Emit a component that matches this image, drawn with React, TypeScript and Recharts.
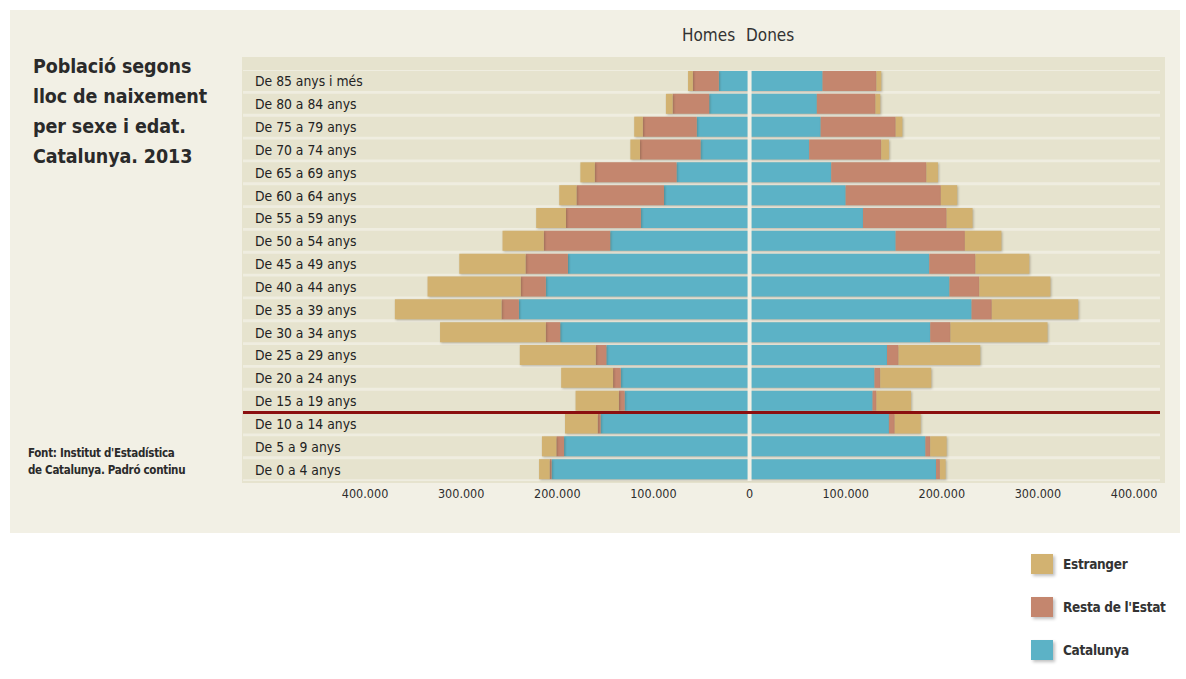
import React from 'react';
import { BarChart, Bar, XAxis, YAxis, CartesianGrid, ReferenceLine } from 'recharts';

// age groups, top to bottom
const ageGroups = [
  'De 85 anys i més', 'De 80 a 84 anys', 'De 75 a 79 anys', 'De 70 a 74 anys',
  'De 65 a 69 anys', 'De 60 a 64 anys', 'De 55 a 59 anys', 'De 50 a 54 anys',
  'De 45 a 49 anys', 'De 40 a 44 anys', 'De 35 a 39 anys', 'De 30 a 34 anys',
  'De 25 a 29 anys', 'De 20 a 24 anys', 'De 15 a 19 anys', 'De 10 a 14 anys',
  'De 5 a 9 anys', 'De 0 a 4 anys',
];

// men (thousands)
const homesCatalunya = [32, 42, 55, 51, 76, 89, 113, 145, 189, 212, 240, 197, 149, 134, 130, 155, 193, 206];
const homesResta = [27, 38, 56, 63, 85, 91, 78, 69, 44, 26, 18, 15, 11, 8, 6, 3, 8, 2];
const homesEstranger = [5, 7, 9, 10, 15, 18, 31, 43, 69, 97, 111, 110, 79, 54, 45, 34, 15, 11];

// women (thousands)
const donesCatalunya = [76, 70, 74, 62, 85, 100, 118, 152, 187, 208, 231, 188, 143, 130, 128, 145, 183, 194];
const donesResta = [56, 61, 78, 75, 99, 99, 87, 72, 48, 31, 21, 21, 12, 6, 4, 6, 5, 4];
const donesEstranger = [5, 5, 7, 8, 12, 17, 27, 38, 56, 74, 90, 101, 85, 53, 36, 27, 17, 6];

const xTicks = [-400000, -300000, -200000, -100000, 0, 100000, 200000, 300000, 400000];

const COLORS = {
  catalunya: '#5cb2c6',
  resta: '#c4866e',
  estranger: '#d2b271',
};

const data = ageGroups.map((age, i) => ({
  age,
  hCat: -homesCatalunya[i] * 1000,
  hResta: -homesResta[i] * 1000,
  hEstr: -homesEstranger[i] * 1000,
  dCat: donesCatalunya[i] * 1000,
  dResta: donesResta[i] * 1000,
  dEstr: donesEstranger[i] * 1000,
}));

const fmt = (v: number) => Math.abs(v).toLocaleString('de-DE');

const condensed = '"DejaVu Sans Condensed", "Liberation Sans Narrow", "Open Sans", sans-serif';

const legendItems = [
  { label: 'Estranger', color: COLORS.estranger },
  { label: "Resta de l'Estat", color: COLORS.resta },
  { label: 'Catalunya', color: COLORS.catalunya },
];

// row labels sit inside the plot area, on the left
const AgeTick = (props: any) => {
  const { y, payload } = props;
  return (
    <text x={255} y={y} dy="0.36em" fontSize={13.8} fill="#222" fontFamily={condensed} textAnchor="start">
      {payload.value}
    </text>
  );
};

export default function App() {
  return (
    <div style={{ position: 'absolute', left: 0, top: 0, width: 1186, height: 679, background: '#fff', fontFamily: condensed }}>
      <style>{`.recharts-bar-rectangle .recharts-rectangle { filter: drop-shadow(1.5px 1.5px 1px rgba(60,50,30,0.3)); }`}</style>
      <div style={{ position: 'absolute', left: 10, top: 10, width: 1170, height: 523, background: '#f2f0e5' }} />
      <div style={{ position: 'absolute', left: 242, top: 57, width: 923, height: 426, background: '#e6e3ce' }} />

      <div style={{ position: 'absolute', left: 33, top: 52, fontSize: 19.5, fontWeight: 'bold', lineHeight: '30px', color: '#2a2a2a', letterSpacing: -0.1 }}>
        Població segons<br />lloc de naixement<br />per sexe i edat.<br />Catalunya. 2013
      </div>

      <div style={{ position: 'absolute', left: 28, top: 445, fontSize: 11.5, fontWeight: 'bold', lineHeight: '17px', color: '#2a2a2a', letterSpacing: -0.3 }}>
        Font: Institut d'Estadística<br />de Catalunya. Padró continu
      </div>

      <div style={{ position: 'absolute', left: 682, top: 25, fontSize: 17, color: '#333', wordSpacing: 6 }}>
        Homes Dones
      </div>

      <div style={{ position: 'absolute', left: 0, top: 0 }}>
        <BarChart
          width={1186}
          height={530}
          data={data}
          layout="vertical"
          stackOffset="sign"
          barSize={20}
          margin={{ top: 70, right: 26, bottom: 19, left: 242 }}
        >
          <CartesianGrid horizontal={false} vertical={false} fill="#efede0" />
          <XAxis
            type="number"
            domain={[-527000, 427000]}
            ticks={xTicks}
            tickFormatter={fmt}
            axisLine={false}
            tickLine={false}
            height={30}
            tick={{ fontSize: 12.5, fill: '#2e2e2e', fontFamily: condensed }}
            allowDataOverflow
          />
          <YAxis
            type="category"
            dataKey="age"
            width={1}
            axisLine={false}
            tickLine={false}
            tick={<AgeTick />}
            interval={0}
          />
          <Bar dataKey="hCat" stackId="a" fill={COLORS.catalunya} background={{ fill: '#e6e3ce' }} isAnimationActive={false} />
          <Bar dataKey="hResta" stackId="a" fill={COLORS.resta} isAnimationActive={false} />
          <Bar dataKey="hEstr" stackId="a" fill={COLORS.estranger} isAnimationActive={false} />
          <Bar dataKey="dCat" stackId="a" fill={COLORS.catalunya} isAnimationActive={false} />
          <Bar dataKey="dResta" stackId="a" fill={COLORS.resta} isAnimationActive={false} />
          <Bar dataKey="dEstr" stackId="a" fill={COLORS.estranger} isAnimationActive={false} />
          <ReferenceLine x={0} stroke="#f2f0e5" strokeWidth={4} />
          <ReferenceLine y="De 10 a 14 anys" position="start" stroke="#8b0f0f" strokeWidth={3} />
        </BarChart>
      </div>

      <div style={{ position: 'absolute', left: 1031, top: 553 }}>
        {legendItems.map((it) => (
          <div key={it.label} style={{ display: 'flex', alignItems: 'center', height: 22, marginBottom: 21 }}>
            <div style={{ width: 22, height: 20, background: it.color, boxShadow: '2px 2px 3px rgba(0,0,0,0.25)', marginRight: 10 }} />
            <span style={{ fontSize: 13.5, fontWeight: 'bold', color: '#333', letterSpacing: -0.3 }}>{it.label}</span>
          </div>
        ))}
      </div>
    </div>
  );
}
